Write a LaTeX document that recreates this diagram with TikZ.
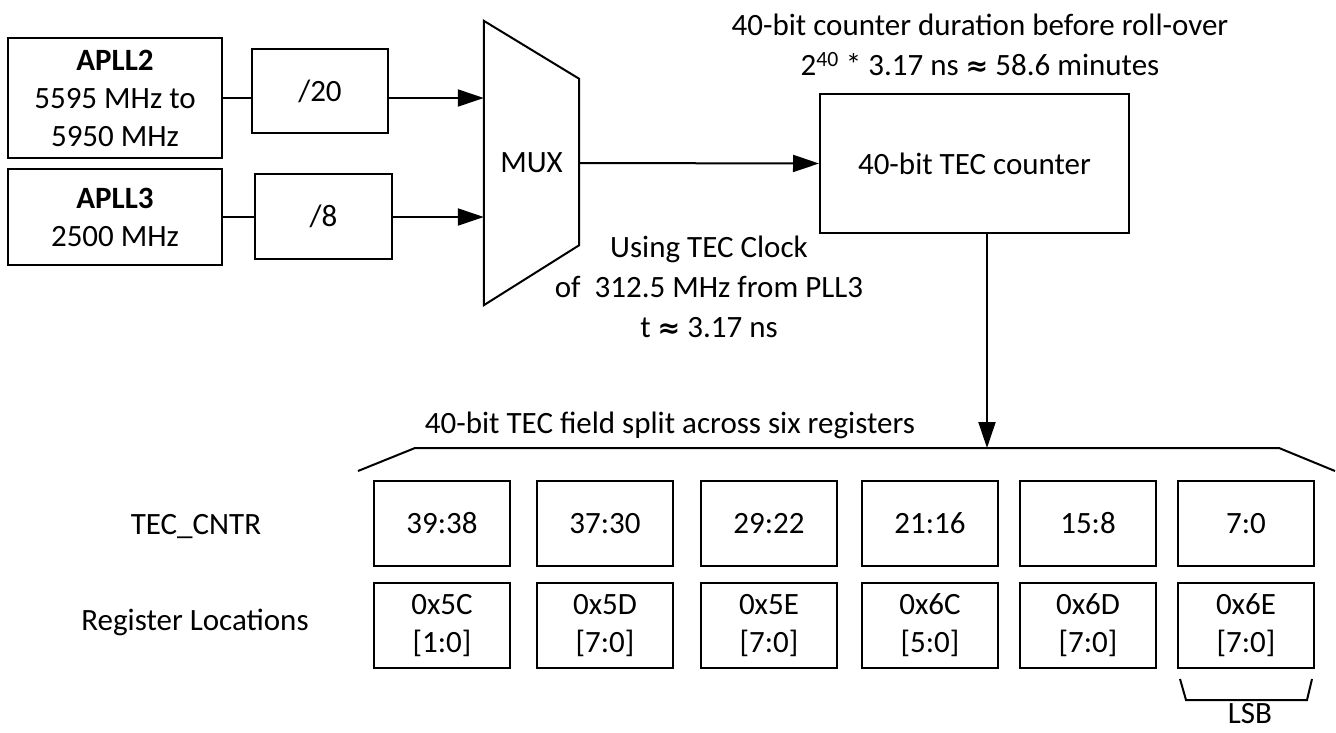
\documentclass[tikz,border=0pt]{standalone}
\usepackage{fontspec}
\setmainfont{Carlito}
\newfontfamily\symfont{DejaVu Sans}
\usepackage{tikz}
\usetikzlibrary{arrows.meta,positioning,calc}

\tikzset{
  blk/.style={draw, line width=2pt, align=center, inner sep=0pt},
  wire/.style={line width=2pt},
  sig/.style={line width=2pt, -{Triangle[length=26pt,width=17pt]}},
  txt/.style={align=center, inner sep=0pt}
}
\newcommand{\approxsym}{{\symfont\bfseries\fontsize{27pt}{27pt}\selectfont ≈}}

\begin{document}
\begin{tikzpicture}[x=1pt, y=-1pt, font=\fontsize{31pt}{38pt}\selectfont]
    \useasboundingbox (0,0) rectangle (1336,732);

    % Clock sources and dividers
    \node[blk, minimum width=214pt, minimum height=120pt] (apll2) at (115,98)
        {\textbf{APLL2}\\5595 MHz to\\5950 MHz};
    \node[blk, minimum width=214pt, minimum height=96pt] (apll3) at (115,217)
        {\textbf{APLL3}\\2500 MHz};
    \node[blk, minimum width=136pt, minimum height=84pt] (d20) at (320,91) {/20};
    \node[blk, minimum width=137pt, minimum height=85pt] (d8) at (323.5,216.5) {/8};

    % MUX
    \node[txt, minimum width=95pt, minimum height=284pt] (mux) at (531.5,163) {MUX};
    \draw[wire, line join=miter] (mux.north west) -- ($(mux.north east)+(0,58)$)
        -- ($(mux.south east)+(0,-60)$) -- (mux.south west) -- cycle;

    \draw[wire] (apll2) -- (apll2 -| d20.west);
    \draw[sig] (d20.east |- apll2) -- (apll2 -| mux.west);
    \draw[wire] (apll3) -- (apll3 -| d8.west);
    \draw[sig] (d8.east |- apll3) -- (apll3 -| mux.west);

    % Counter
    \node[blk, minimum width=309pt, minimum height=139pt] (cnt) at (974.5,163.5)
        {40-bit TEC counter};
    \draw[sig] (mux.east) -- (cnt.west);

    \node[txt, font=\fontsize{31pt}{40pt}\selectfont] (roll) at (980,45)
        {40-bit counter duration before roll-over\\
         2\textsuperscript{40} * 3.17 ns \approxsym{} 58.6 minutes};
    \node[txt, font=\fontsize{31pt}{40pt}\selectfont] (clk) at (709,287)
        {Using TEC Clock\\of\ \ 312.5 MHz from PLL3\\t \approxsym{} 3.17 ns};

    % Register field
    \node[txt] (field) at (670,425) {40-bit TEC field split across six registers};
    \draw[wire] (358,471) -- (415,448) -- (1279,448) -- (1335,471);
    \coordinate (tap) at (987,448);
    \draw[sig] (tap |- cnt.south) -- (tap);

    \node[txt] (cntr) at (196,527) {TEC\_CNTR};
    \node[txt] (loc) at (195,622) {Register Locations};

    \foreach \i/\x/\bits/\adr/\rng in {1/442/39:38/0x5C/1:0, 2/605/37:30/0x5D/7:0,
        3/769/29:22/0x5E/7:0, 4/930/21:16/0x6C/5:0, 5/1088/15:8/0x6D/7:0,
        6/1246/7:0/0x6E/7:0} {
      \node[blk, minimum width=136pt, minimum height=85pt] (hi\i) at (\x,523.5) {\bits};
      \node[blk, minimum width=136pt, minimum height=85pt] (lo\i) at (\x,625.5)
          {\adr\\{}[\rng]};
    }

    % LSB marker
    \draw[wire] ($(lo6.south west)+(3,10)$) -- ++(6,21) -- ($(lo6.south east)+(-8,31)$)
        -- ++(5,-21);
    \node[txt, anchor=base] (lsb) at (1250,723) {LSB};
\end{tikzpicture}
\end{document}
